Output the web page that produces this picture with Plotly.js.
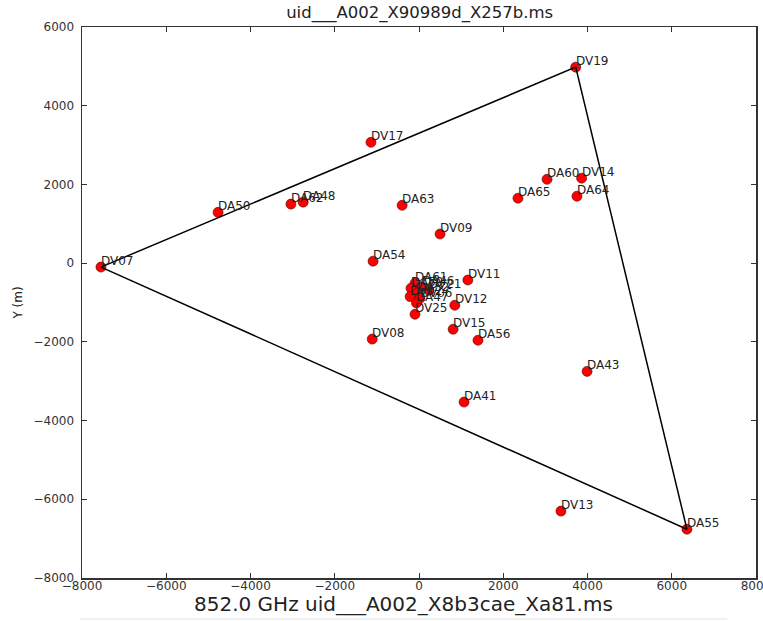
<!DOCTYPE html>
<html>
<head>
<meta charset="utf-8">
<script src="https://cdn.plot.ly/plotly-3.0.1.min.js"></script>
<style>html,body{margin:0;padding:0;background:#fff;} #chart{width:763px;height:621px;}</style>
</head>
<body>
<div id="chart"></div>
<script>
// Antenna names and positions (m)
const antennas = ['DV19','DA55','DV07','DV17','DA50','DA62','DA48','DA63','DV09','DA54',
  'DA60','DV14','DA65','DA64','DV11','DV12','DV15','DA56','DV08','DA43','DA41','DV13',
  'DA61','DA59','DA46','DV21','DA52','DV02','DV06','DA47','DV25'];
const xPos = [3720, 6360, -7550, -1140, -4770, -3040, -2750, -400, 500, -1090,
  3040, 3860, 2350, 3750, 1160, 850, 810, 1400, -1110, 3990, 1070, 3370,
  -95, -190, 60, 230, -40, -210, 20, -60, -95];
const yPos = [4980, -6760, -100, 3070, 1290, 1500, 1550, 1470, 740, 50,
  2130, 2160, 1650, 1700, -430, -1070, -1680, -1960, -1930, -2750, -3530, -6300,
  -510, -640, -600, -690, -760, -850, -900, -1010, -1300];
// Convex hull vertices
const hull = ['DV07','DV19','DA55','DV07'];
const xTicks = [-8000,-6000,-4000,-2000,0,2000,4000,6000,8000];
const yTicks = [-8000,-6000,-4000,-2000,0,2000,4000,6000];
const topTitle = 'uid___A002_X90989d_X257b.ms';
const bottomTitle = '852.0 GHz uid___A002_X8b3cae_Xa81.ms';

const hx = hull.map(n => xPos[antennas.indexOf(n)]);
const hy = hull.map(n => yPos[antennas.indexOf(n)]);

const FONT = 'DejaVu Sans, sans-serif';

const traces = [
  {x: xPos, y: yPos, type: 'scatter', mode: 'markers', hoverinfo: 'text', text: antennas,
   marker: {color: '#ff0000', size: 10, line: {color: '#550000', width: 0.6}}},
  {x: hx, y: hy, type: 'scatter', mode: 'lines', hoverinfo: 'skip',
   line: {color: '#000000', width: 1.5}}
];

const annotations = antennas.map((n, i) => ({
  x: xPos[i], y: yPos[i], xref: 'x', yref: 'y', text: n, showarrow: false,
  xanchor: 'left', yanchor: 'middle', xshift: -2, yshift: 6,
  font: {family: FONT, size: 12, color: '#222'}
}));
annotations.push({
  xref: 'paper', yref: 'paper', x: 0.477, y: 0, yshift: -12, yanchor: 'top',
  text: bottomTitle, showarrow: false, font: {family: FONT, size: 20, color: '#222'}
});

const axisCommon = {
  showgrid: false, zeroline: false, showline: true, linecolor: '#333', linewidth: 1.5,
  mirror: 'ticks', ticks: 'inside', ticklen: 5, tickwidth: 1, tickcolor: '#333',
  tickfont: {family: FONT, size: 12, color: '#333'}, ticklabeloverflow: 'allow'
};

const layout = {
  width: 763, height: 621,
  margin: {l: 82, r: 7, t: 27, b: 43},
  paper_bgcolor: '#fff', plot_bgcolor: '#fff',
  showlegend: false,
  title: {text: topTitle, font: {family: FONT, size: 16.5, color: '#222'},
          x: 0.55, xanchor: 'center', y: 0.981, yanchor: 'middle'},
  xaxis: Object.assign({}, axisCommon, {range: [-8000, 8000], tickvals: xTicks,
          ticklabelstandoff: -4}),
  yaxis: Object.assign({}, axisCommon, {range: [-8000, 6000], tickvals: yTicks,
          ticklabelstandoff: 4,
          title: {text: 'Y (m)', font: {family: FONT, size: 12, color: '#222'}, standoff: 8}}),
  annotations: annotations,
  shapes: [{type: 'line', xref: 'paper', yref: 'paper', x0: -0.003, x1: 0.957,
            y0: -41 / 551, y1: -41 / 551, line: {color: '#e4e4e4', width: 1}}]
};

Plotly.newPlot('chart', traces, layout, {displayModeBar: false, staticPlot: true});
</script>
</body>
</html>
